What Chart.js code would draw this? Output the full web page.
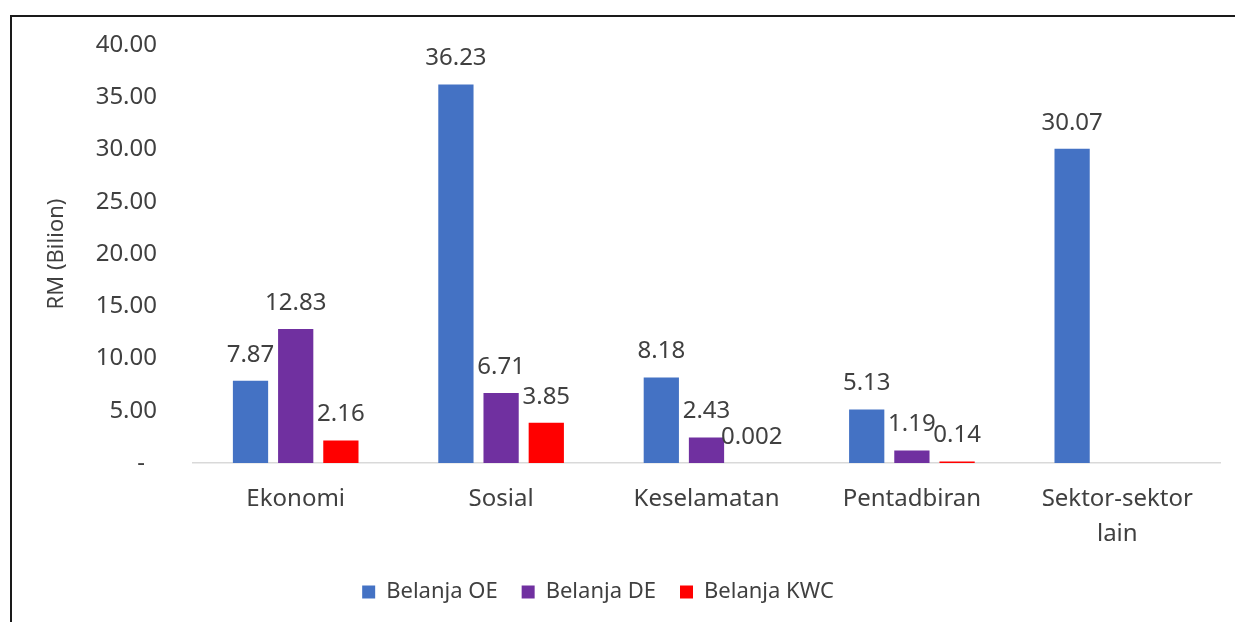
<!DOCTYPE html>
<html>
	<head>
		<meta charset="utf-8">
		<title>Belanja mengikut sektor</title>
		<script src="https://cdn.jsdelivr.net/npm/chart.js@4.4.0/dist/chart.umd.min.js"></script>
		<style>
			html, body { margin: 0; padding: 0; background: #fff; overflow: hidden; }
			#frame {
				position: absolute;
				left: 10px;
				top: 15px;
				width: 1230px;
				height: 610px;
				border-left: 2px solid #1a1a1a;
				border-top: 2px solid #1a1a1a;
			}
			#myChart { display: block; }
		</style>
	</head>
	<body>
		<div id="frame">
			<canvas id="myChart" width="1223" height="605"></canvas>
		</div>
		<script>
			// data
			const categories = ['Ekonomi', 'Sosial', 'Keselamatan', 'Pentadbiran', ['Sektor-sektor', 'lain']];
			const seriesNames = ['Belanja OE', 'Belanja DE', 'Belanja KWC'];
			const belanjaOE = [7.87, 36.23, 8.18, 5.13, 30.07];
			const belanjaDE = [12.83, 6.71, 2.43, 1.19, null];
			const belanjaKWC = [2.16, 3.85, 0.002, 0.14, null];
			const yMin = 0, yMax = 40, yStep = 5;

			const textColor = '#404040';
			const fontFamily = "'Noto Sans', 'Open Sans', sans-serif";

			// label nilai di atas setiap bar
			const valueLabels = {
				id: 'valueLabels',
				afterDatasetsDraw(chart) {
					const ctx = chart.ctx;
					ctx.save();
					ctx.font = '24px ' + fontFamily;
					ctx.fillStyle = textColor;
					ctx.textAlign = 'center';
					ctx.textBaseline = 'middle';
					chart.data.datasets.forEach((ds, i) => {
						const meta = chart.getDatasetMeta(i);
						meta.data.forEach((bar, j) => {
							const v = ds.data[j];
							if (v === null || v === undefined) return;
							ctx.fillText(String(v), bar.x, bar.y - 26);
						});
					});
					ctx.restore();
				}
			};

			// legenda sedikit ke kiri (seperti dalam Excel)
			const legendShift = {
				id: 'legendShift',
				afterLayout(chart) {
					if (!chart.legend) return;
					chart.legend.left -= 18;
					chart.legend.right -= 18;
				}
			};

			const ctx = document.getElementById('myChart').getContext('2d');
			const chart = new Chart(ctx, {
				type: 'bar',
				data: {
					labels: categories,
					datasets: [
						{ label: seriesNames[0], data: belanjaOE, backgroundColor: '#4472C4' },
						{ label: seriesNames[1], data: belanjaDE, backgroundColor: '#7030A0' },
						{ label: seriesNames[2], data: belanjaKWC, backgroundColor: '#FF0000' }
					]
				},
				options: {
					responsive: false,
					animation: false,
					datasets: {
						bar: { barPercentage: 0.78, categoryPercentage: 0.66 }
					},
					layout: { padding: { top: 28, right: 15, bottom: 9, left: 0 } },
					plugins: {
						legend: {
							position: 'bottom',
							labels: {
								boxWidth: 13,
								boxHeight: 13,
								padding: 24,
								color: textColor,
								font: { family: fontFamily, size: 22 }
							}
						},
						tooltip: { enabled: false }
					},
					scales: {
						x: {
							grid: { display: false, drawTicks: false },
							border: { display: true, color: '#d9d9d9', width: 1.5 },
							ticks: {
								padding: 19,
								maxRotation: 0,
								color: textColor,
								font: { family: fontFamily, size: 24, lineHeight: 1.46 }
							},
							afterFit(scale) { scale.height = 94; }
						},
						y: {
							min: yMin,
							max: yMax,
							grid: { display: false, drawTicks: false },
							border: { display: false },
							ticks: {
								stepSize: yStep,
								padding: 36,
								color: textColor,
								font: { family: fontFamily, size: 24 },
								callback: v => v === 0 ? '-\u2002' : v.toFixed(2)
							},
							title: {
								display: true,
								text: 'RM (Bilion)',
								color: textColor,
								padding: { top: 32, bottom: 0 },
								font: { family: fontFamily, size: 22 }
							},
							afterFit(scale) {
								scale.width = 181;
								scale.paddingTop = 0;
								scale.paddingBottom = 0;
							}
						}
					}
				},
				plugins: [valueLabels, legendShift]
			});
		</script>
	</body>
</html>
